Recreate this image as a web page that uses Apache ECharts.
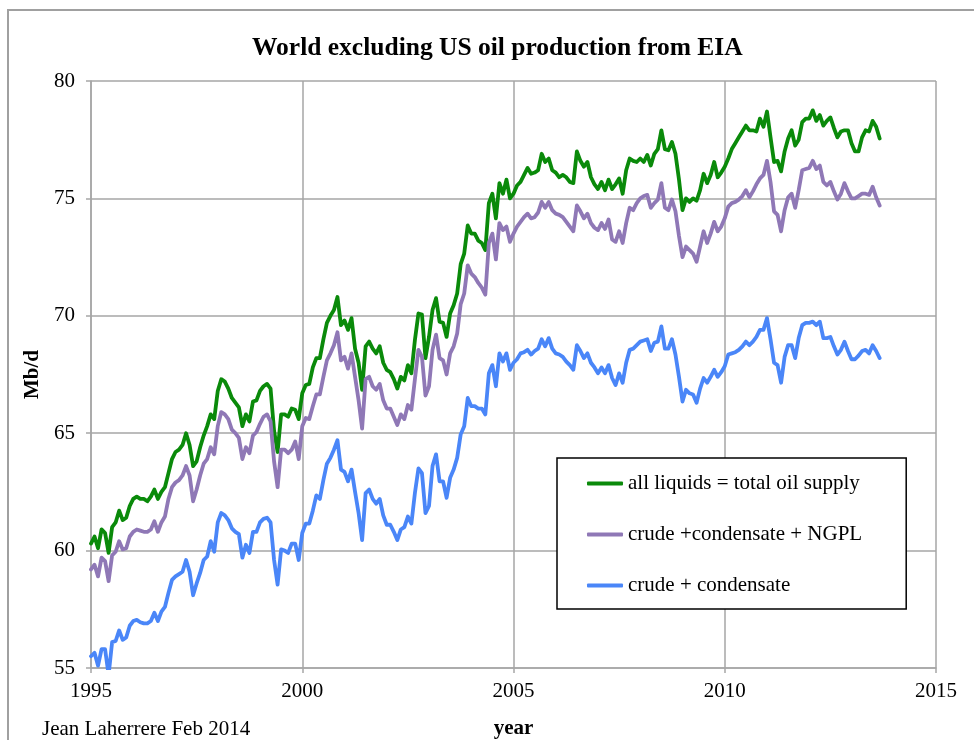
<!DOCTYPE html>
<html>
<head>
<meta charset="utf-8">
<title>World excluding US oil production from EIA</title>
<script src="https://cdn.jsdelivr.net/npm/echarts@6/dist/echarts.min.js"></script>
<style>
  html, body { margin: 0; padding: 0; background: #fff; }
  #chart { width: 974px; height: 740px; }
</style>
</head>
<body>
<div id="chart"></div>
<script>
// monthly values, Jan 1995 .. Sep 2013 (Mb/d)
const startYear = 1995
const yTicks = [55, 60, 65, 70, 75, 80]
const xTicks = [1995, 2000, 2005, 2010, 2015]

const allLiquids = [
  60.3, 60.6, 60.1, 60.9, 60.75, 59.9, 61.0, 61.2, 61.7, 61.3, 61.4, 61.9,
  62.2, 62.3, 62.2, 62.2, 62.1, 62.3, 62.6, 62.2, 62.5, 62.7, 63.3, 63.9,
  64.2, 64.3, 64.5, 65.0, 64.5, 63.6, 63.8, 64.4, 64.9, 65.3, 65.8, 65.6,
  66.8, 67.3, 67.2, 66.9, 66.5, 66.3, 66.1, 65.3, 65.8, 65.5, 66.35, 66.4,
  66.8, 67.0, 67.1, 66.9, 65.1, 64.2, 65.8, 65.8, 65.7, 66.05, 66.0, 65.6,
  66.7, 67.05, 67.1, 67.8, 68.2, 68.2, 69.0, 69.7, 70.0, 70.25, 70.8, 69.6,
  69.8, 69.4, 69.9, 68.6, 68.0, 66.85, 68.7, 68.9, 68.6, 68.4, 68.7, 68.0,
  67.7, 67.6, 67.3, 66.9, 67.4, 67.25, 67.9, 67.55, 68.97, 70.1, 70.05, 68.2,
  69.1, 70.25, 70.75, 69.75, 69.7, 69.1, 70.1, 70.45, 70.95, 72.2, 72.65, 73.85,
  73.5, 73.5, 73.2, 73.1, 72.8, 74.8, 75.2, 74.15, 75.65, 75.2, 75.8, 75.0,
  75.2, 75.55, 75.7, 76.0, 76.3, 76.05, 76.1, 76.2, 76.9, 76.55, 76.7, 76.2,
  76.1, 75.9, 76.0, 75.9, 75.7, 75.65, 77.0, 76.6, 76.35, 76.55, 75.9, 75.6,
  75.4, 75.7, 75.35, 75.8, 75.4, 75.6, 75.85, 75.2, 76.2, 76.7, 76.6, 76.55,
  76.7, 76.55, 76.85, 76.4, 76.9, 77.1, 77.9, 77.1, 77.05, 77.4, 76.9, 75.8,
  74.5, 75.0, 74.85, 75.0, 74.9, 75.35, 76.05, 75.65, 76.0, 76.55, 75.9, 76.1,
  76.35, 76.7, 77.1, 77.35, 77.6, 77.85, 78.1, 77.9, 77.9, 77.85, 78.4, 78.05,
  78.7, 77.6, 76.55, 76.6, 76.15, 77.0, 77.55, 77.9, 77.25, 77.5, 78.25, 78.4,
  78.4, 78.75, 78.3, 78.55, 78.1, 78.3, 78.45, 78.0, 77.6, 77.85, 77.9, 77.9,
  77.35, 77.0, 77.0, 77.6, 77.9, 77.85, 78.3, 78.05, 77.55
]

const crudeCondNgpl = [
  59.2, 59.4, 58.9, 59.7, 59.55, 58.7, 59.8, 59.95, 60.4, 60.05, 60.1, 60.6,
  60.8, 60.9, 60.85, 60.8, 60.8, 60.9, 61.25, 60.8, 61.2, 61.45, 62.2, 62.7,
  62.9, 63.0, 63.2, 63.6, 63.2, 62.1, 62.6, 63.2, 63.7, 63.9, 64.4, 64.1,
  65.3, 65.9, 65.8, 65.6, 65.15, 65.0, 64.8, 63.9, 64.4, 64.15, 64.9, 65.05,
  65.4, 65.7, 65.8, 65.5, 63.8, 62.7, 64.3, 64.3, 64.15, 64.3, 64.65, 63.9,
  65.3, 65.65, 65.6, 66.15, 66.65, 66.65, 67.4, 68.1, 68.4, 68.75, 69.3, 68.1,
  68.25, 67.75, 68.4, 67.4, 66.4, 65.2, 67.3, 67.4, 67.0, 66.85, 67.1, 66.4,
  66.05, 66.05, 65.7, 65.35, 65.8, 65.6, 66.2, 66.0, 67.3, 68.55, 68.25, 66.6,
  67.0, 68.55, 69.2, 68.2, 68.1, 67.5, 68.4, 68.7, 69.25, 70.5, 70.95, 72.15,
  71.8, 71.65, 71.4, 71.2, 70.9, 73.1, 73.5, 72.4, 73.95, 73.65, 73.8, 73.15,
  73.5, 73.8, 74.0, 74.2, 74.35, 74.15, 74.2, 74.4, 74.85, 74.6, 74.85, 74.5,
  74.35, 74.3, 74.2, 74.0, 73.8, 73.6, 74.7, 74.45, 74.15, 74.35, 73.95, 73.75,
  73.65, 73.95, 73.7, 74.1, 73.25, 73.15, 73.6, 73.1, 73.95, 74.6, 74.5, 74.8,
  75.0, 75.1, 75.15, 74.6, 74.8, 74.95, 75.65, 74.6, 74.5, 74.95, 74.45, 73.4,
  72.5, 72.95, 72.8, 72.65, 72.3, 72.95, 73.6, 73.1, 73.5, 74.0, 73.6, 73.8,
  74.15, 74.65, 74.8, 74.85, 74.95, 75.1, 75.35, 75.05, 75.3, 75.6, 75.85, 76.0,
  76.6, 75.7, 74.45, 74.3, 73.6, 74.5, 75.05, 75.2, 74.6, 75.35, 76.2, 76.25,
  76.3, 76.6, 76.25, 76.4, 75.7, 75.55, 75.7, 75.3, 74.95, 75.2, 75.65, 75.3,
  75.0, 75.0, 75.1, 75.2, 75.2, 75.15, 75.5, 75.05, 74.7
]

const crudeCond = [
  55.5, 55.65, 55.1, 55.8, 55.8, 54.7, 56.1, 56.15, 56.6, 56.2, 56.3, 56.8,
  57.0, 57.05, 56.95, 56.9, 56.9, 57.0, 57.35, 57.0, 57.4, 57.6, 58.2, 58.75,
  58.9, 59.0, 59.1, 59.6, 59.1, 58.1, 58.6, 59.05, 59.6, 59.75, 60.4, 59.95,
  61.2, 61.6, 61.5, 61.3, 60.95, 60.8, 60.7, 59.7, 60.25, 59.9, 60.8, 60.8,
  61.2, 61.35, 61.4, 61.2, 59.6, 58.55, 60.05, 60.0, 59.9, 60.3, 60.3, 59.6,
  60.75, 61.15, 61.15, 61.7, 62.35, 62.2, 63.0, 63.7, 63.95, 64.3, 64.7, 63.45,
  63.35, 62.95, 63.45, 62.5, 61.6, 60.45, 62.45, 62.6, 62.2, 62.0, 62.2, 61.5,
  61.1, 61.1, 60.8, 60.45, 60.9, 61.0, 61.45, 61.15, 62.45, 63.5, 63.3, 61.6,
  61.9, 63.6, 64.1, 62.95, 62.95, 62.25, 63.1, 63.45, 63.95, 64.95, 65.3, 66.5,
  66.15, 66.15, 66.05, 66.05, 65.8, 67.55, 67.9, 67.0, 68.4, 68.05, 68.4, 67.7,
  68.0, 68.15, 68.4, 68.45, 68.55, 68.35, 68.5, 68.6, 69.0, 68.7, 69.05, 68.6,
  68.4, 68.35, 68.25, 68.05, 67.9, 67.7, 68.75, 68.5, 68.2, 68.4, 68.0, 67.8,
  67.55, 67.8, 67.55, 67.9, 67.35, 67.05, 67.55, 67.15, 68.0, 68.55, 68.6, 68.75,
  68.9, 68.95, 69.0, 68.5, 68.85, 68.9, 69.55, 68.6, 68.6, 69.0, 68.35, 67.4,
  66.35, 66.85, 66.7, 66.65, 66.3, 66.9, 67.35, 67.15, 67.4, 67.7, 67.4, 67.6,
  67.85, 68.35, 68.4, 68.45, 68.55, 68.7, 68.9, 68.75, 68.9, 69.1, 69.4, 69.4,
  69.9, 69.0, 68.0, 67.9, 67.15, 68.25, 68.75, 68.75, 68.2, 69.05, 69.6, 69.7,
  69.7, 69.75, 69.6, 69.75, 69.05, 69.05, 69.1, 68.7, 68.35, 68.55, 68.9, 68.5,
  68.15, 68.15, 68.3, 68.5, 68.55, 68.4, 68.75, 68.5, 68.2
]

const seriesNames = [
  'all liquids = total oil supply',
  'crude +condensate + NGPL',
  'crude + condensate'
]

function toPairs(values) {
  return values.map((v, i) => [startYear + i / 12, v])
}

const serif = '"Liberation Serif", "DejaVu Serif", serif'
const gridColor = '#a6a6a6'

const chart = echarts.init(document.getElementById('chart'))

function lineSeries(name, values, color) {
  return {
    name: name,
    type: 'line',
    data: toPairs(values),
    showSymbol: false,
    symbol: 'none',
    lineStyle: { color: color, width: 3.8, join: 'round', cap: 'round' },
    itemStyle: { color: color },
    animation: false
  }
}

chart.setOption({
  animation: false,
  backgroundColor: '#fff',
  title: {
    text: 'World excluding US oil production from EIA',
    left: 247,
    top: 30,
    textStyle: { fontFamily: serif, fontSize: 25.5, fontWeight: 'bold', color: '#000' }
  },
  graphic: [
    {
      type: 'rect',
      shape: { x: 8, y: 10, width: 1000, height: 760 },
      style: { fill: null, stroke: '#a0a0a0', lineWidth: 2 },
      silent: true,
      z: -1
    },
    {
      type: 'text',
      left: 42,
      top: 719,
      style: { text: 'Jean Laherrere Feb 2014', font: '21px ' + serif, fill: '#000' }
    }
  ],
  legend: {
    orient: 'vertical',
    left: 557,
    top: 458,
    padding: [15, 44, 13, 30],
    itemGap: 30,
    itemWidth: 36,
    itemHeight: 4,
    icon: 'roundRect',
    backgroundColor: '#fff',
    borderColor: '#000',
    borderWidth: 1.5,
    borderRadius: 0,
    textStyle: { fontFamily: serif, fontSize: 21, color: '#000', lineHeight: 20 },
    data: seriesNames
  },
  grid: { left: 91, right: 38, top: 81, bottom: 72, containLabel: false, outerBoundsMode: 'none' },
  xAxis: {
    type: 'value',
    min: xTicks[0],
    max: xTicks[xTicks.length - 1],
    interval: 5,
    name: 'year',
    nameLocation: 'middle',
    nameGap: 50,
    nameTextStyle: { fontFamily: serif, fontSize: 21, fontWeight: 'bold', color: '#000' },
    axisLine: { show: true, lineStyle: { color: gridColor, width: 1.5 } },
    axisTick: { show: true, length: 5, lineStyle: { color: gridColor, width: 1.5 } },
    axisLabel: {
      margin: 13,
      fontFamily: serif, fontSize: 21, color: '#000',
      formatter: v => String(v)
    },
    splitLine: { show: true, lineStyle: { color: gridColor, width: 1.5 } }
  },
  yAxis: {
    type: 'value',
    min: yTicks[0],
    max: yTicks[yTicks.length - 1],
    interval: 5,
    name: 'Mb/d',
    nameLocation: 'middle',
    nameGap: 43,
    nameRotate: 90,
    nameTextStyle: { fontFamily: serif, fontSize: 21, fontWeight: 'bold', color: '#000' },
    axisLine: { show: true, lineStyle: { color: gridColor, width: 1.5 } },
    axisTick: { show: true, length: 5, lineStyle: { color: gridColor, width: 1.5 } },
    axisLabel: { margin: 16, fontFamily: serif, fontSize: 21, color: '#000' },
    splitLine: { show: true, lineStyle: { color: gridColor, width: 1.5 } }
  },
  series: [
    lineSeries(seriesNames[0], allLiquids, '#0a8a0a'),
    lineSeries(seriesNames[1], crudeCondNgpl, '#8f78b6'),
    lineSeries(seriesNames[2], crudeCond, '#4a86f8')
  ]
})
</script>
</body>
</html>
